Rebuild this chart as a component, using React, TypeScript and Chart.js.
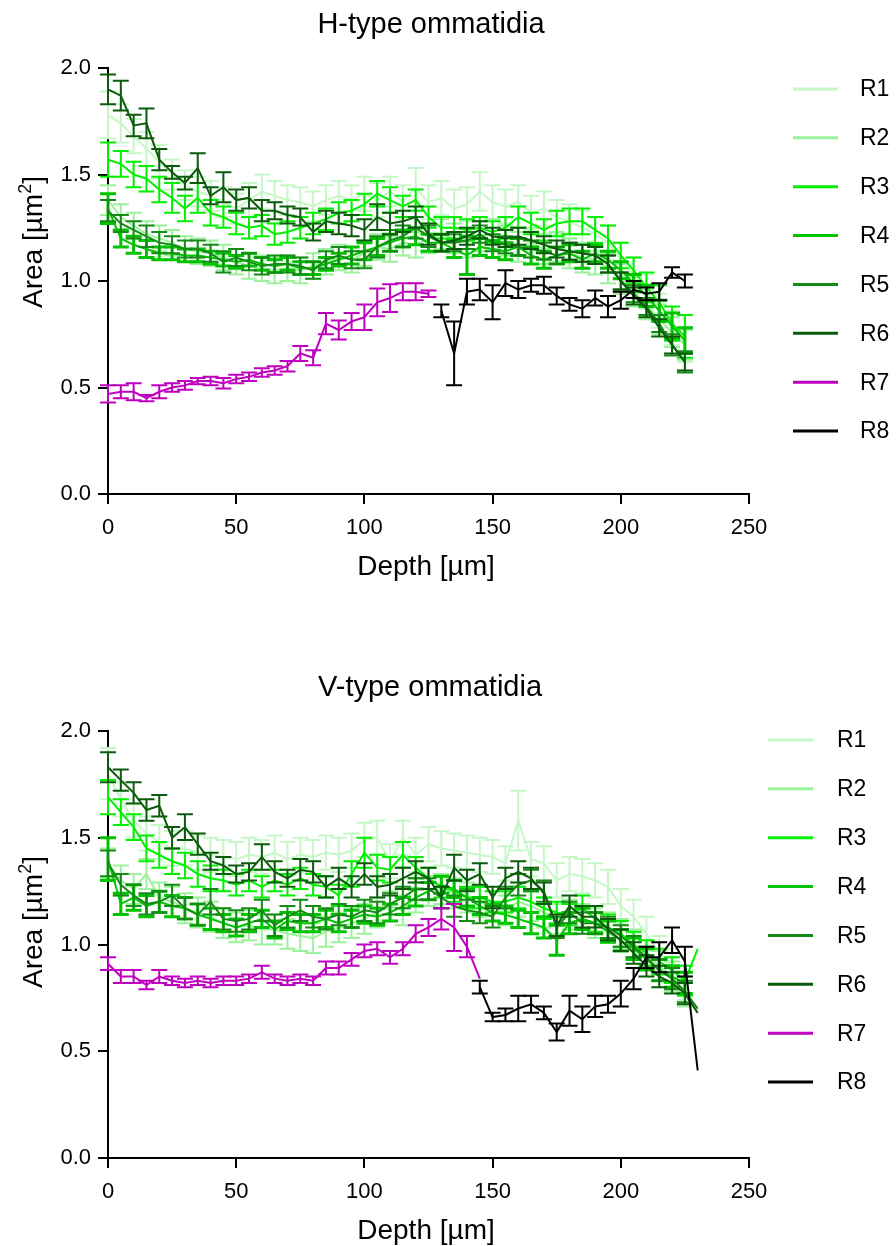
import React, { useEffect, useRef } from "react";
import { Chart, registerables } from "chart.js";

Chart.register(...registerables);

const FONT = '"Liberation Sans", Arial, Helvetica, sans-serif';

// ---------- data ----------
const DEPTH_H = [0, 5, 10, 15, 20, 25, 30, 35, 40, 45, 50, 55, 60, 65, 70, 75, 80, 85, 90, 95, 100, 105, 110, 115, 120, 125, 130, 135, 140, 145, 150, 155, 160, 165, 170, 175, 180, 185, 190, 195, 200, 205, 210, 215, 220, 225];
const DEPTH_V = [0, 5, 10, 15, 20, 25, 30, 35, 40, 45, 50, 55, 60, 65, 70, 75, 80, 85, 90, 95, 100, 105, 110, 115, 120, 125, 130, 135, 140, 145, 150, 155, 160, 165, 170, 175, 180, 185, 190, 195, 200, 205, 210, 215, 220, 225, 230];

const SERIES_NAMES = ["R1", "R2", "R3", "R4", "R5", "R6", "R7", "R8"];
const SERIES_COLORS = ["#c6f7c6", "#9cf29c", "#00f000", "#00c400", "#168a16", "#0a5c0a", "#c000c0", "#000000"];

const X_TICKS = [0, 50, 100, 150, 200, 250];
const Y_TICKS = [0, 0.5, 1.0, 1.5, 2.0];

// H-type ommatidia (mean, sem)
const H_R1 = [1.78, 1.74, 1.68, 1.62, 1.56, 1.50, 1.45, 1.42, 1.40, 1.37,
  1.34, 1.38, 1.42, 1.40, 1.38, 1.37, 1.35, 1.38, 1.40, 1.38,
  1.41, 1.38, 1.42, 1.37, 1.44, 1.37, 1.39, 1.34, 1.36, 1.42,
  1.37, 1.35, 1.37, 1.32, 1.34, 1.30, 1.28, 1.25, 1.22, 1.18,
  1.10, 1.03, 0.95, 0.86, 0.78, 0.70];
const H_R1_ERR = [0.11, 0.09, 0.08, 0.08, 0.08, 0.07, 0.07, 0.07, 0.07, 0.07,
  0.07, 0.08, 0.08, 0.07, 0.07, 0.07, 0.07, 0.07, 0.07, 0.07,
  0.08, 0.08, 0.07, 0.08, 0.09, 0.08, 0.08, 0.09, 0.08, 0.09,
  0.08, 0.08, 0.08, 0.08, 0.08, 0.08, 0.08, 0.08, 0.08, 0.08,
  0.08, 0.08, 0.08, 0.08, 0.08, 0.08];
const H_R2 = [1.38, 1.30, 1.26, 1.22, 1.20, 1.18, 1.15, 1.14, 1.13, 1.11,
  1.09, 1.07, 1.06, 1.05, 1.06, 1.05, 1.07, 1.09, 1.11, 1.10,
  1.13, 1.16, 1.15, 1.18, 1.17, 1.20, 1.22, 1.20, 1.18, 1.21,
  1.22, 1.19, 1.16, 1.18, 1.15, 1.16, 1.13, 1.11, 1.10, 1.06,
  1.01, 0.95, 0.89, 0.82, 0.76, 0.70];
const H_R2_ERR = [0.07, 0.06, 0.06, 0.06, 0.06, 0.06, 0.06, 0.06, 0.06, 0.06,
  0.06, 0.06, 0.06, 0.06, 0.06, 0.06, 0.06, 0.06, 0.06, 0.06,
  0.06, 0.06, 0.06, 0.06, 0.06, 0.07, 0.07, 0.07, 0.07, 0.07,
  0.07, 0.07, 0.07, 0.07, 0.07, 0.07, 0.07, 0.07, 0.07, 0.07,
  0.07, 0.07, 0.07, 0.07, 0.07, 0.07];
const H_R3 = [1.57, 1.55, 1.50, 1.48, 1.43, 1.39, 1.34, 1.39, 1.32, 1.30,
  1.27, 1.25, 1.26, 1.22, 1.23, 1.25, 1.27, 1.29, 1.32, 1.33,
  1.36, 1.41, 1.38, 1.35, 1.38, 1.30, 1.25, 1.25, 1.24, 1.25,
  1.23, 1.25, 1.30, 1.27, 1.24, 1.27, 1.28, 1.28, 1.24, 1.20,
  1.12, 1.05, 0.97, 0.90, 0.80, 0.74];
const H_R3_ERR = [0.08, 0.06, 0.06, 0.06, 0.06, 0.07, 0.06, 0.07, 0.06, 0.05,
  0.05, 0.05, 0.05, 0.05, 0.05, 0.05, 0.05, 0.05, 0.05, 0.05,
  0.05, 0.06, 0.06, 0.05, 0.05, 0.05, 0.05, 0.05, 0.05, 0.05,
  0.05, 0.05, 0.05, 0.05, 0.05, 0.06, 0.06, 0.06, 0.06, 0.06,
  0.06, 0.06, 0.07, 0.08, 0.08, 0.10];
const H_R4 = [1.34, 1.20, 1.17, 1.15, 1.13, 1.13, 1.12, 1.12, 1.11, 1.10,
  1.09, 1.10, 1.08, 1.07, 1.08, 1.06, 1.06, 1.08, 1.10, 1.12,
  1.14, 1.16, 1.18, 1.20, 1.21, 1.18, 1.18, 1.15, 1.12, 1.16,
  1.15, 1.14, 1.16, 1.12, 1.10, 1.12, 1.13, 1.10, 1.13, 1.10,
  1.05, 0.99, 0.93, 0.86, 0.79, 0.72];
const H_R4_ERR = [0.07, 0.04, 0.04, 0.04, 0.03, 0.03, 0.03, 0.03, 0.03, 0.03,
  0.03, 0.03, 0.03, 0.03, 0.03, 0.03, 0.03, 0.03, 0.03, 0.04,
  0.04, 0.04, 0.04, 0.04, 0.04, 0.04, 0.04, 0.04, 0.09, 0.04,
  0.04, 0.04, 0.04, 0.04, 0.04, 0.04, 0.04, 0.04, 0.04, 0.04,
  0.04, 0.04, 0.05, 0.05, 0.06, 0.06];
const H_R5 = [1.33, 1.27, 1.24, 1.21, 1.18, 1.17, 1.15, 1.15, 1.13, 1.09,
  1.11, 1.09, 1.07, 1.08, 1.08, 1.07, 1.05, 1.10, 1.12, 1.10,
  1.10, 1.16, 1.19, 1.21, 1.25, 1.21, 1.18, 1.18, 1.19, 1.22,
  1.18, 1.17, 1.16, 1.15, 1.14, 1.12, 1.14, 1.13, 1.12, 1.08,
  1.00, 0.94, 0.88, 0.80, 0.70, 0.62];
const H_R5_ERR = [0.05, 0.04, 0.04, 0.05, 0.05, 0.04, 0.04, 0.04, 0.04, 0.05,
  0.04, 0.04, 0.04, 0.04, 0.04, 0.04, 0.04, 0.04, 0.04, 0.04,
  0.04, 0.05, 0.05, 0.05, 0.05, 0.05, 0.04, 0.04, 0.04, 0.04,
  0.04, 0.04, 0.04, 0.04, 0.04, 0.04, 0.04, 0.04, 0.04, 0.04,
  0.04, 0.04, 0.04, 0.04, 0.05, 0.05];
const H_R6 = [1.90, 1.87, 1.73, 1.74, 1.57, 1.51, 1.46, 1.53, 1.40, 1.44,
  1.38, 1.39, 1.33, 1.33, 1.31, 1.30, 1.23, 1.28, 1.27, 1.26,
  1.24, 1.30, 1.27, 1.28, 1.30, 1.22, 1.18, 1.19, 1.21, 1.24,
  1.21, 1.20, 1.21, 1.19, 1.17, 1.15, 1.14, 1.13, 1.12, 1.08,
  1.00, 0.93, 0.87, 0.78, 0.70, 0.62];
const H_R6_ERR = [0.07, 0.07, 0.05, 0.07, 0.05, 0.03, 0.03, 0.07, 0.04, 0.07,
  0.05, 0.05, 0.05, 0.04, 0.04, 0.04, 0.04, 0.05, 0.05, 0.05,
  0.05, 0.06, 0.05, 0.05, 0.05, 0.05, 0.04, 0.04, 0.04, 0.04,
  0.04, 0.04, 0.04, 0.04, 0.04, 0.04, 0.04, 0.04, 0.04, 0.04,
  0.04, 0.04, 0.04, 0.04, 0.04, 0.04];
const H_R7 = [0.47, 0.48, 0.48, 0.45, 0.48, 0.50, 0.51, 0.53, 0.53, 0.52,
  0.54, 0.55, 0.57, 0.58, 0.60, 0.66, 0.64, 0.80, 0.77, 0.81,
  0.83, 0.90, 0.92, 0.95, 0.95, 0.94, null, null, null, null,
  null, null, null, null, null, null, null, null, null, null,
  null, null, null, null, null, null];
const H_R7_ERR = [0.04, 0.03, 0.04, 0.015, 0.03, 0.02, 0.02, 0.015, 0.02, 0.025,
  0.02, 0.02, 0.02, 0.02, 0.025, 0.035, 0.035, 0.05, 0.045, 0.04,
  0.06, 0.065, 0.065, 0.04, 0.04, 0.015, null, null, null, null,
  null, null, null, null, null, null, null, null, null, null,
  null, null, null, null, null, null];
const H_R8 = [null, null, null, null, null, null, null, null, null, null,
  null, null, null, null, null, null, null, null, null, null,
  null, null, null, null, null, null, 0.86, 0.66, 0.95, 0.96,
  0.90, 0.99, 0.96, 0.98, 0.98, 0.93, 0.89, 0.87, 0.92, 0.88,
  0.91, 0.96, 0.94, 0.95, 1.04, 1.00];
const H_R8_ERR = [null, null, null, null, null, null, null, null, null, null,
  null, null, null, null, null, null, null, null, null, null,
  null, null, null, null, null, null, 0.03, 0.15, 0.06, 0.05,
  0.08, 0.06, 0.04, 0.03, 0.04, 0.04, 0.03, 0.04, 0.035, 0.05,
  0.04, 0.04, 0.03, 0.04, 0.025, 0.03];

// V-type ommatidia (mean, sem)
const V_R1 = [1.80, 1.68, 1.58, 1.52, 1.48, 1.45, 1.45, 1.43, 1.42, 1.41,
  1.40, 1.42, 1.41, 1.43, 1.40, 1.42, 1.41, 1.43, 1.42, 1.44,
  1.49, 1.50, 1.39, 1.50, 1.42, 1.47, 1.45, 1.44, 1.43, 1.42,
  1.41, 1.38, 1.58, 1.40, 1.38, 1.30, 1.33, 1.32, 1.30, 1.27,
  1.18, 1.13, 1.05, 0.96, 0.90, 0.82, null];
const V_R1_ERR = [0.12, 0.08, 0.08, 0.08, 0.08, 0.08, 0.08, 0.08, 0.08, 0.08,
  0.08, 0.08, 0.08, 0.08, 0.08, 0.08, 0.08, 0.08, 0.08, 0.08,
  0.08, 0.08, 0.08, 0.08, 0.08, 0.08, 0.08, 0.08, 0.08, 0.08,
  0.08, 0.08, 0.14, 0.08, 0.08, 0.08, 0.08, 0.08, 0.08, 0.08,
  0.08, 0.08, 0.08, 0.08, 0.08, 0.08, null];
const V_R2 = [1.38, 1.30, 1.26, 1.33, 1.22, 1.20, 1.17, 1.15, 1.13, 1.10,
  1.08, 1.09, 1.07, 1.07, 1.05, 1.04, 1.03, 1.06, 1.08, 1.10,
  1.12, 1.15, 1.18, 1.16, 1.22, 1.25, 1.26, 1.24, 1.22, 1.20,
  1.18, 1.16, 1.20, 1.18, 1.15, 1.12, 1.14, 1.12, 1.10, 1.08,
  1.05, 1.00, 0.95, 0.90, 0.85, 0.78, null];
const V_R2_ERR = [0.07, 0.07, 0.07, 0.07, 0.07, 0.07, 0.07, 0.07, 0.07, 0.07,
  0.07, 0.07, 0.07, 0.07, 0.07, 0.07, 0.07, 0.07, 0.07, 0.07,
  0.07, 0.07, 0.07, 0.07, 0.07, 0.07, 0.07, 0.07, 0.07, 0.07,
  0.07, 0.07, 0.07, 0.07, 0.07, 0.07, 0.07, 0.07, 0.07, 0.07,
  0.07, 0.07, 0.07, 0.07, 0.07, 0.07, null];
const V_R3 = [1.69, 1.62, 1.55, 1.45, 1.42, 1.39, 1.37, 1.33, 1.31, 1.30,
  1.28, 1.30, 1.27, 1.30, 1.28, 1.31, 1.28, 1.27, 1.23, 1.33,
  1.43, 1.36, 1.35, 1.42, 1.36, 1.31, 1.27, 1.25, 1.22, 1.22,
  1.20, 1.20, 1.22, 1.20, 1.17, 1.15, 1.14, 1.17, 1.12, 1.08,
  1.05, 1.00, 0.96, 0.92, 0.88, 0.83, 0.98];
const V_R3_ERR = [0.08, 0.06, 0.06, 0.06, 0.06, 0.06, 0.06, 0.06, 0.06, 0.05,
  0.05, 0.05, 0.05, 0.05, 0.05, 0.05, 0.05, 0.05, 0.05, 0.06,
  0.07, 0.06, 0.06, 0.06, 0.05, 0.05, 0.05, 0.05, 0.05, 0.05,
  0.05, 0.05, 0.05, 0.05, 0.05, 0.05, 0.05, 0.06, 0.06, 0.06,
  0.06, 0.06, 0.06, 0.06, 0.06, 0.07, null];
const V_R4 = [1.40, 1.19, 1.22, 1.18, 1.20, 1.18, 1.17, 1.14, 1.12, 1.10,
  1.08, 1.10, 1.12, 1.07, 1.11, 1.10, 1.10, 1.12, 1.10, 1.12,
  1.14, 1.13, 1.15, 1.18, 1.22, 1.25, 1.28, 1.26, 1.22, 1.18,
  1.15, 1.14, 1.12, 1.10, 1.08, 1.02, 1.10, 1.12, 1.10, 1.06,
  1.02, 0.98, 0.93, 0.88, 0.85, 0.82, null];
const V_R4_ERR = [0.10, 0.05, 0.06, 0.05, 0.05, 0.05, 0.05, 0.05, 0.05, 0.04,
  0.04, 0.04, 0.04, 0.04, 0.04, 0.04, 0.04, 0.04, 0.04, 0.04,
  0.04, 0.04, 0.04, 0.04, 0.04, 0.04, 0.04, 0.04, 0.04, 0.04,
  0.04, 0.04, 0.04, 0.05, 0.05, 0.07, 0.05, 0.05, 0.05, 0.05,
  0.05, 0.05, 0.05, 0.05, 0.05, 0.05, null];
const V_R5 = [1.38, 1.28, 1.23, 1.19, 1.20, 1.23, 1.17, 1.14, 1.20, 1.12,
  1.11, 1.12, 1.16, 1.09, 1.13, 1.16, 1.13, 1.12, 1.14, 1.13,
  1.16, 1.15, 1.19, 1.22, 1.26, 1.26, 1.22, 1.18, 1.16, 1.15,
  1.13, 1.22, 1.28, 1.30, 1.25, 1.08, 1.15, 1.10, 1.10, 1.08,
  1.04, 0.99, 0.94, 0.88, 0.84, 0.78, 0.70];
const V_R5_ERR = [0.06, 0.05, 0.05, 0.05, 0.05, 0.05, 0.05, 0.05, 0.06, 0.05,
  0.05, 0.05, 0.05, 0.05, 0.05, 0.05, 0.05, 0.05, 0.05, 0.05,
  0.05, 0.05, 0.05, 0.05, 0.05, 0.05, 0.05, 0.05, 0.05, 0.05,
  0.05, 0.05, 0.05, 0.05, 0.05, 0.05, 0.05, 0.05, 0.05, 0.05,
  0.05, 0.05, 0.05, 0.05, 0.05, 0.05, null];
const V_R6 = [1.83, 1.77, 1.71, 1.63, 1.65, 1.50, 1.55, 1.47, 1.39, 1.37,
  1.33, 1.34, 1.41, 1.34, 1.31, 1.35, 1.34, 1.27, 1.31, 1.27,
  1.33, 1.27, 1.28, 1.31, 1.34, 1.31, 1.22, 1.36, 1.30, 1.33,
  1.22, 1.31, 1.34, 1.31, 1.24, 1.09, 1.18, 1.13, 1.13, 1.07,
  1.02, 0.96, 0.90, 0.85, 0.82, 0.77, 0.68];
const V_R6_ERR = [0.07, 0.05, 0.05, 0.05, 0.05, 0.05, 0.06, 0.05, 0.04, 0.04,
  0.04, 0.04, 0.06, 0.05, 0.04, 0.05, 0.05, 0.05, 0.05, 0.05,
  0.05, 0.05, 0.05, 0.05, 0.05, 0.05, 0.05, 0.06, 0.05, 0.05,
  0.05, 0.05, 0.05, 0.05, 0.05, 0.05, 0.05, 0.05, 0.05, 0.05,
  0.05, 0.05, 0.05, 0.05, 0.05, 0.05, null];
const V_R7 = [0.91, 0.85, 0.85, 0.81, 0.85, 0.83, 0.82, 0.83, 0.82, 0.83,
  0.83, 0.84, 0.87, 0.84, 0.83, 0.84, 0.83, 0.89, 0.89, 0.93,
  0.97, 0.98, 0.94, 0.98, 1.05, 1.08, 1.12, 1.08, 0.99, 0.84,
  null, null, null, null, null, null, null, null, null, null,
  null, null, null, null, null, null, null];
const V_R7_ERR = [0.03, 0.03, 0.03, 0.02, 0.03, 0.02, 0.02, 0.02, 0.02, 0.02,
  0.02, 0.02, 0.03, 0.02, 0.02, 0.02, 0.02, 0.03, 0.03, 0.03,
  0.03, 0.03, 0.03, 0.03, 0.04, 0.04, 0.05, 0.11, 0.05, null,
  null, null, null, null, null, null, null, null, null, null,
  null, null, null, null, null, null, null];
const V_R8 = [null, null, null, null, null, null, null, null, null, null,
  null, null, null, null, null, null, null, null, null, null,
  null, null, null, null, null, null, null, null, null, 0.80,
  0.66, 0.67, 0.70, 0.72, 0.68, 0.59, 0.69, 0.65, 0.71, 0.72,
  0.77, 0.84, 0.94, 0.94, 1.02, 0.92, 0.41];
const V_R8_ERR = [null, null, null, null, null, null, null, null, null, null,
  null, null, null, null, null, null, null, null, null, null,
  null, null, null, null, null, null, null, null, null, 0.03,
  0.02, 0.03, 0.06, 0.04, 0.03, 0.04, 0.07, 0.06, 0.05, 0.04,
  0.06, 0.05, 0.05, 0.07, 0.06, 0.07, null];

const H_MEANS = [H_R1, H_R2, H_R3, H_R4, H_R5, H_R6, H_R7, H_R8];
const H_ERRS = [H_R1_ERR, H_R2_ERR, H_R3_ERR, H_R4_ERR, H_R5_ERR, H_R6_ERR, H_R7_ERR, H_R8_ERR];
const V_MEANS = [V_R1, V_R2, V_R3, V_R4, V_R5, V_R6, V_R7, V_R8];
const V_ERRS = [V_R1_ERR, V_R2_ERR, V_R3_ERR, V_R4_ERR, V_R5_ERR, V_R6_ERR, V_R7_ERR, V_R8_ERR];

// ---------- layout ----------
const W = 896;
const H = 623;
const PLOT_LEFT = 108;
const PLOT_RIGHT = 749;
const CAP = 8;

type PanelCfg = {
  title: string;
  depth: number[];
  means: (number | null)[][];
  errs: (number | null)[][];
  plotTop: number;
  plotBottom: number;
  titleX: number;
  yTitleY: number;
  legendLineX: number;
  legendTextX: number;
  legendTop: number;
};

const errorBarPlugin = {
  id: "errorBars",
  afterDatasetDraw(chart: any, args: any) {
    const ds: any = chart.data.datasets[args.index];
    const ys = chart.scales.y;
    const ctx = chart.ctx;
    ctx.save();
    ctx.strokeStyle = ds.borderColor;
    ctx.lineWidth = ds.errorWidth || 2;
    ctx.lineCap = "butt";
    args.meta.data.forEach((pt: any, i: number) => {
      const raw = ds.data[i];
      if (!raw || raw.e == null || raw.e === 0) return;
      const x = pt.x;
      const yt = ys.getPixelForValue(raw.y + raw.e);
      const yb = ys.getPixelForValue(raw.y - raw.e);
      ctx.beginPath();
      ctx.moveTo(x, yt);
      ctx.lineTo(x, yb);
      ctx.moveTo(x - CAP, yt);
      ctx.lineTo(x + CAP, yt);
      ctx.moveTo(x - CAP, yb);
      ctx.lineTo(x + CAP, yb);
      ctx.stroke();
    });
    ctx.restore();
  },
};

const decorPlugin = {
  id: "decor",
  afterDraw(chart: any, _args: any, opts: any) {
    const ctx = chart.ctx;
    const ca = chart.chartArea;
    ctx.save();
    ctx.fillStyle = "#000";
    // title
    ctx.font = `29px ${FONT}`;
    ctx.textAlign = "center";
    ctx.textBaseline = "alphabetic";
    ctx.fillText(opts.title, opts.titleX, ca.top - 35);
    // x title
    ctx.font = `28px ${FONT}`;
    ctx.fillText("Depth [\u00b5m]", 426, ca.bottom + 81);
    // y title with superscript
    ctx.save();
    ctx.translate(42, opts.yTitleY);
    ctx.rotate(-Math.PI / 2);
    ctx.textAlign = "left";
    const big = `28px ${FONT}`;
    const small = `18px ${FONT}`;
    ctx.font = big;
    const a = "Area [\u00b5m";
    const wa = ctx.measureText(a).width;
    const wc = ctx.measureText("]").width;
    ctx.font = small;
    const wb = ctx.measureText("2").width;
    const total = wa + wb + wc;
    const x0 = -total / 2;
    ctx.font = big;
    ctx.fillText(a, x0, 0);
    ctx.font = small;
    ctx.fillText("2", x0 + wa, -11);
    ctx.font = big;
    ctx.fillText("]", x0 + wa + wb, 0);
    ctx.restore();
    // legend
    ctx.font = `23px ${FONT}`;
    ctx.textAlign = "left";
    ctx.textBaseline = "middle";
    SERIES_NAMES.forEach((name, i) => {
      const y = opts.legendTop + i * 48.86;
      ctx.strokeStyle = SERIES_COLORS[i];
      ctx.lineWidth = 3;
      ctx.beginPath();
      ctx.moveTo(opts.legendLineX, y);
      ctx.lineTo(opts.legendLineX + 45, y);
      ctx.stroke();
      ctx.fillStyle = "#000";
      ctx.fillText(name, opts.legendTextX, y + 1);
    });
    ctx.restore();
  },
};

function buildConfig(cfg: PanelCfg): any {
  const datasets = cfg.means.map((vals, si) => {
    const pts: any[] = [];
    vals.forEach((v, i) => {
      if (v == null) return;
      pts.push({ x: cfg.depth[i], y: v, e: cfg.errs[si][i] });
    });
    return {
      label: SERIES_NAMES[si],
      data: pts,
      borderColor: SERIES_COLORS[si],
      backgroundColor: SERIES_COLORS[si],
      borderWidth: 2,
      pointRadius: 0,
      tension: 0,
      fill: false,
      order: 8 - si,
      errorWidth: si === 3 ? 3 : 2,
    };
  });
  const tickFont = { family: FONT, size: 22 };
  return {
    type: "line",
    data: { datasets },
    plugins: [errorBarPlugin, decorPlugin],
    options: {
      responsive: false,
      animation: false,
      events: [],
      layout: { padding: { top: cfg.plotTop, right: W - PLOT_RIGHT, left: 0, bottom: 0 } },
      plugins: {
        legend: { display: false },
        title: { display: false },
        tooltip: { enabled: false },
        decor: {
          title: cfg.title,
          titleX: cfg.titleX,
          yTitleY: cfg.yTitleY,
          legendLineX: cfg.legendLineX,
          legendTextX: cfg.legendTextX,
          legendTop: cfg.legendTop,
        },
      },
      scales: {
        x: {
          type: "linear",
          min: 0,
          max: 250,
          afterFit(s: any) {
            s.height = H - cfg.plotBottom;
          },
          afterBuildTicks(s: any) {
            s.ticks = X_TICKS.map((v) => ({ value: v }));
          },
          ticks: { font: tickFont, color: "#000", padding: 11, maxRotation: 0 },
          grid: { display: true, drawOnChartArea: false, drawTicks: true, tickLength: 10, color: "#000", lineWidth: 2 },
          border: { display: true, color: "#000", width: 2 },
        },
        y: {
          type: "linear",
          min: 0,
          max: 2,
          afterFit(s: any) {
            s.width = PLOT_LEFT;
          },
          afterBuildTicks(s: any) {
            s.ticks = Y_TICKS.map((v) => ({ value: v }));
          },
          ticks: {
            font: tickFont,
            color: "#000",
            padding: 7,
            callback: (v: any) => Number(v).toFixed(1),
          },
          grid: { display: true, drawOnChartArea: false, drawTicks: true, tickLength: 10, color: "#000", lineWidth: 2 },
          border: { display: true, color: "#000", width: 2 },
        },
      },
    },
  };
}

function Panel({ cfg }: { cfg: PanelCfg }) {
  const ref = useRef<HTMLCanvasElement | null>(null);
  useEffect(() => {
    if (!ref.current) return;
    const chart = new Chart(ref.current, buildConfig(cfg));
    return () => chart.destroy();
  }, []);
  return <canvas ref={ref} width={W} height={H} style={{ display: "block", width: W, height: H }} />;
}

const TOP_CFG: PanelCfg = {
  title: "H-type ommatidia",
  depth: DEPTH_H,
  means: H_MEANS,
  errs: H_ERRS,
  plotTop: 68,
  plotBottom: 494,
  titleX: 431,
  yTitleY: 242,
  legendLineX: 793,
  legendTextX: 860,
  legendTop: 89,
};

const BOTTOM_CFG: PanelCfg = {
  title: "V-type ommatidia",
  depth: DEPTH_V,
  means: V_MEANS,
  errs: V_ERRS,
  plotTop: 108,
  plotBottom: 535,
  titleX: 430,
  yTitleY: 299,
  legendLineX: 768,
  legendTextX: 837,
  legendTop: 117,
};

export default function App() {
  return (
    <div style={{ position: "absolute", left: 0, top: 0, width: W, height: 2 * H, background: "#fff" }}>
      <Panel cfg={TOP_CFG} />
      <Panel cfg={BOTTOM_CFG} />
    </div>
  );
}
